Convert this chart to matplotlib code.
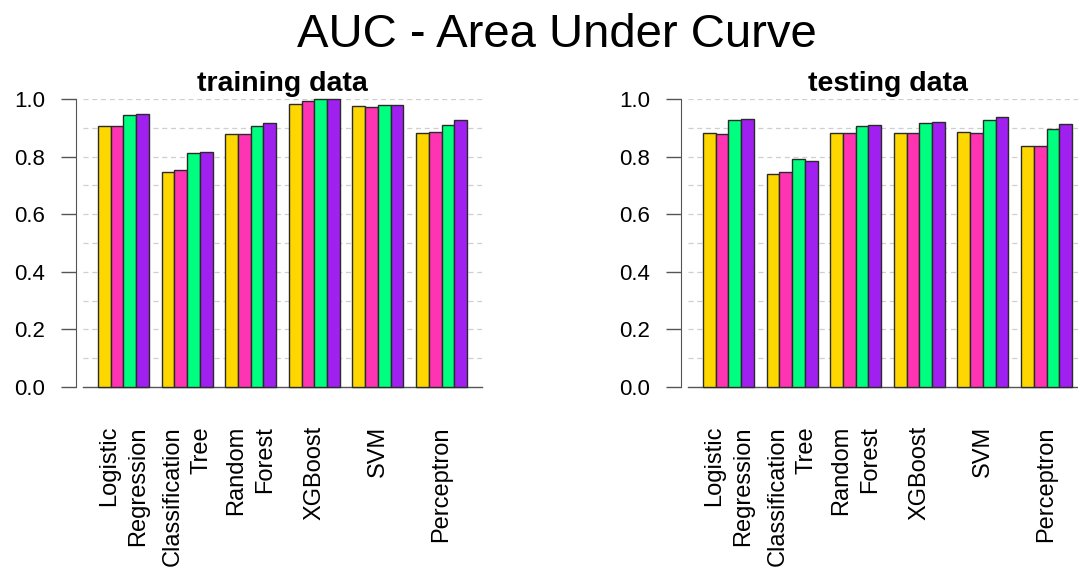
import numpy as np
import matplotlib.pyplot as plt

plt.rcParams['font.family'] = ['Liberation Sans', 'DejaVu Sans']

models = ["Logistic\nRegression", "Classification\nTree", "Random\nForest",
          "XGBoost", "SVM", "Perceptron"]

# AUC on the training set, one list per model variant
train_v1 = [0.907, 0.745, 0.878, 0.983, 0.974, 0.882]
train_v2 = [0.905, 0.754, 0.878, 0.993, 0.972, 0.885]
train_v3 = [0.943, 0.813, 0.905, 0.999, 0.978, 0.909]
train_v4 = [0.947, 0.817, 0.916, 0.999, 0.978, 0.928]

# AUC on the testing set
test_v1 = [0.882, 0.741, 0.882, 0.882, 0.887, 0.838]
test_v2 = [0.878, 0.746, 0.882, 0.882, 0.882, 0.838]
test_v3 = [0.928, 0.791, 0.905, 0.916, 0.928, 0.896]
test_v4 = [0.930, 0.785, 0.909, 0.919, 0.937, 0.913]

colors = ['#FFD700', '#FF34B3', '#00FF7F', '#A020F0']
PX = 72 / 100  # points per pixel at dpi 100


def draw_panel(ax, series, title):
    n_groups = len(models)
    n_bars = len(series)
    # one empty slot between groups, like R's barplot(beside=TRUE)
    starts = 1 + np.arange(n_groups) * (n_bars + 1)
    for k, values in enumerate(series):
        ax.bar(starts + k + 0.5, values, width=1.0, color=colors[k],
               edgecolor='#2a2a2a', linewidth=1.0, zorder=3, clip_on=False)

    ax.set_xlim(-0.18, 31.18)
    ax.set_ylim(0, 1.0)

    for y in np.arange(0.1, 1.01, 0.1):
        ax.axhline(y, color='#cfcfcf', linestyle=(0, (4, 3)), linewidth=0.9, zorder=1)

    ax.set_yticks(np.arange(0, 1.01, 0.2))
    ax.set_yticklabels(['%.1f' % v for v in np.arange(0, 1.01, 0.2)])
    ax.tick_params(axis='y', length=15 * PX, width=1.0, color='#555555',
                   pad=16 * PX, labelsize=16)

    ax.set_xticks(starts + n_bars / 2)
    ax.set_xticklabels(models, rotation=90, multialignment='right',
                       linespacing=1.4)
    ax.tick_params(axis='x', length=0, pad=39 * PX, labelsize=17)

    for side in ['top', 'right']:
        ax.spines[side].set_visible(False)
    ax.spines['left'].set_position(('outward', 7 * PX))
    ax.spines['left'].set_bounds(0, 1.0)
    ax.spines['left'].set_color('#555555')
    ax.spines['bottom'].set_color('#555555')
    ax.spines['bottom'].set_linewidth(1.0)

    ax.set_title(title, fontsize=20.5, fontweight='bold', pad=8 * PX)


fig = plt.figure(figsize=(10.78, 5.74), dpi=100)
W, H = 1078, 574
ax1 = fig.add_axes([83 / W, (H - 387) / H, 399 / W, 288 / H])
ax2 = fig.add_axes([688 / W, (H - 387) / H, 399 / W, 288 / H])

draw_panel(ax1, [train_v1, train_v2, train_v3, train_v4], 'training data')
draw_panel(ax2, [test_v1, test_v2, test_v3, test_v4], 'testing data')

fig.text(557 / W, 1 - 47 / H, 'AUC - Area Under Curve', ha='center',
         va='baseline', fontsize=34)

fig.savefig('out.png', dpi=100)
